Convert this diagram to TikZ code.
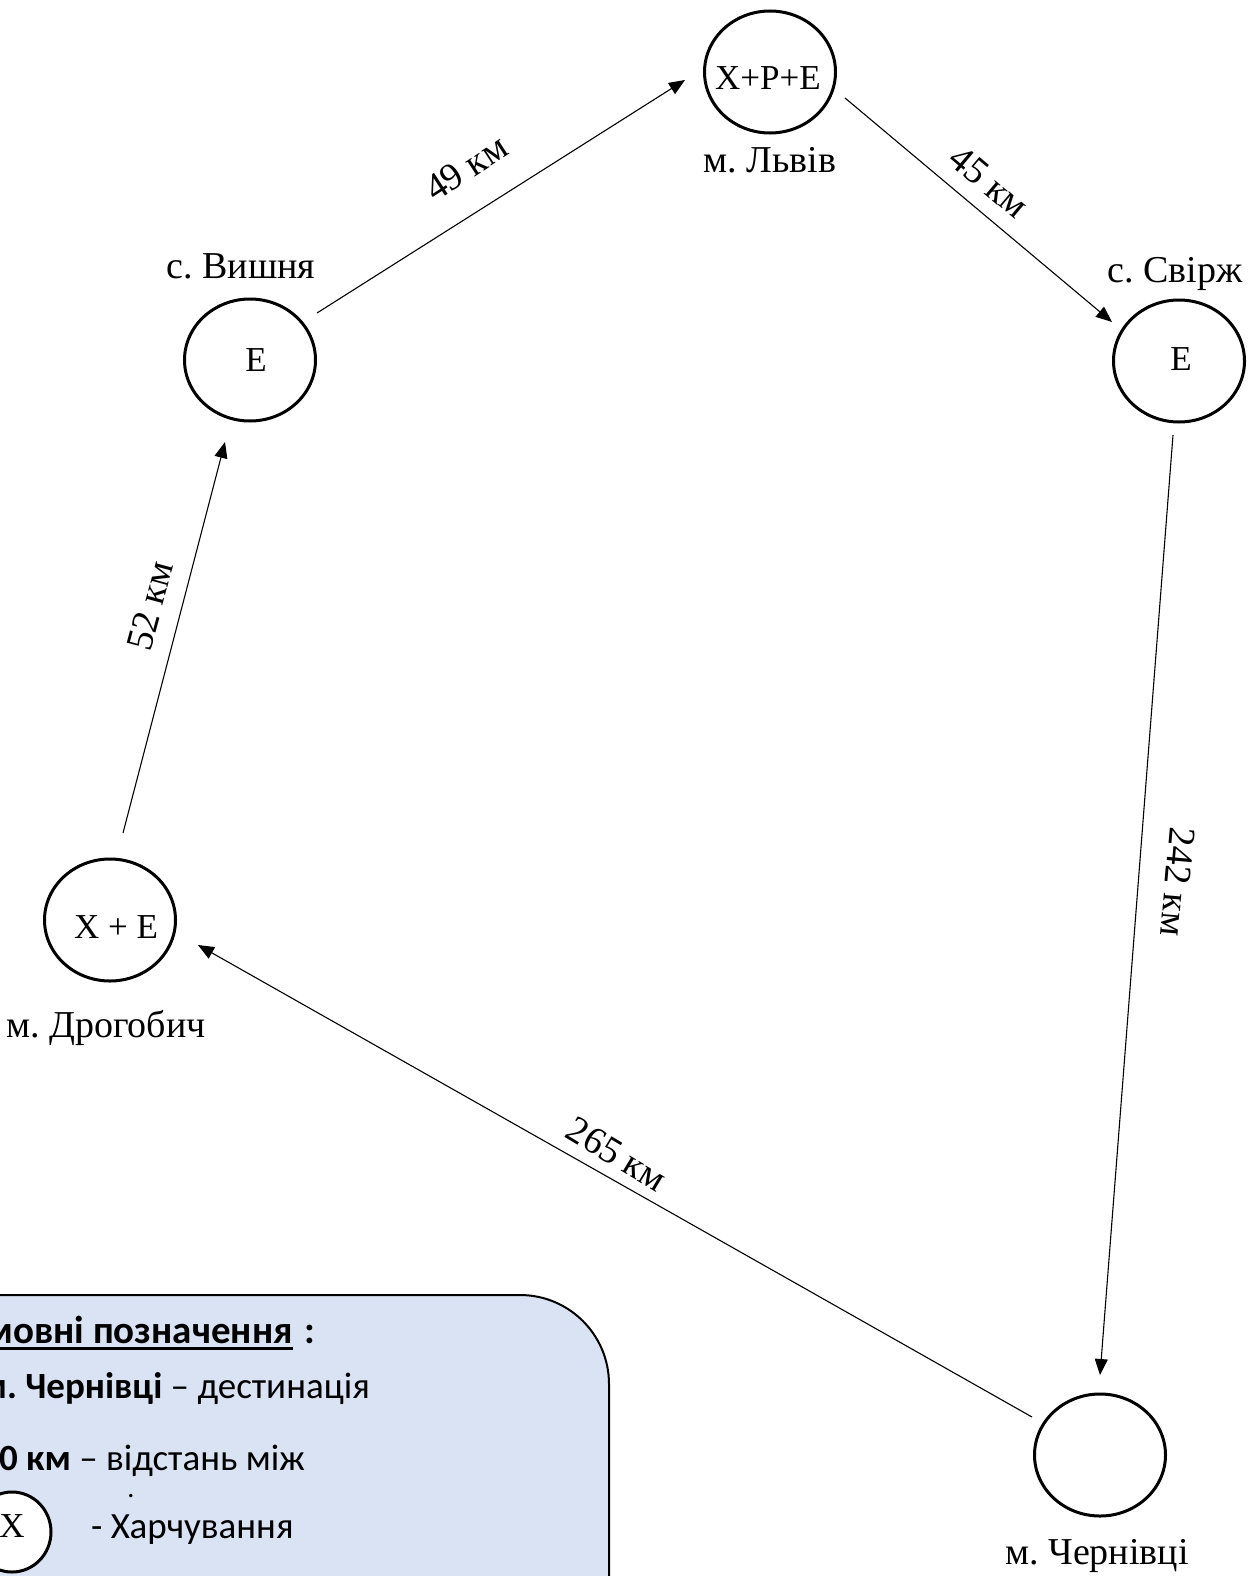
\documentclass[tikz,border=0pt]{standalone}
\usepackage{fontspec}
\setmainfont{Liberation Serif}
\newfontfamily\carl{Carlito}
\usetikzlibrary{shapes.geometric,arrows.meta,calc}
\definecolor{legendfill}{HTML}{DAE3F3}
\newcommand\myul[1]{\setbox0\hbox{#1}\rlap{\rule[-7pt]{\wd0}{3pt}}\box0}
\frenchspacing
\begin{document}
\begin{tikzpicture}[x=1pt,y=-1pt,
  city/.style={ellipse, draw, line width=3pt, minimum width=131pt, minimum height=122pt, inner sep=0pt},
  intext/.style={font=\fontsize{35}{40}\selectfont, anchor=base, inner sep=0pt},
  place/.style={font=\fontsize{38}{44}\selectfont, anchor=base, inner sep=0pt},
  dist/.style={font=\fontsize{38}{42}\selectfont, inner sep=0pt},
  conn/.style={line width=1.1pt, -{Triangle[length=16pt,width=13pt]}},
  legtext/.style={font=\carl\fontsize{37}{44}\selectfont, inner sep=0pt},
  leghead/.style={font=\carl\fontsize{39}{46}\selectfont\bfseries, inner sep=0pt}]
\useasboundingbox (0,0) rectangle (1254,1576);
\clip (0,0) rectangle (1254,1576);

% cities
\node[city] (L) at (770,72) {};
\node[city] (V) at (250,360) {};
\node[city] (S) at (1179,361) {};
\node[city] (D) at (110,920) {};
\node[city] (C) at (1100,1455) {};

% inner texts
\node[intext] (Lt) at (768,90) {Х+Р+Е};
\node[intext] (Vt) at (256,371) {Е};
\node[intext] (St) at (1181,370) {Е};
\node[intext] (Dt) at (116,938) {Х + Е};

% place names
\node[place] (Ln) at (770,172) {м. Львів};
\node[place] (Vn) at (241,278) {с. Вишня};
\node[place] (Sn) at (1175,282) {с. Свірж};
\node[place] (Dn) at (106,1037) {м. Дрогобич};
\node[place] (Cn) at (1097,1564) {м. Чернівці};

% connectors
\draw[conn] ($(D)+(13,-87)$) -- ($(V)+(-25,82)$);
\draw[conn] ($(V)+(67,-47)$) -- ($(L)+(-85,8)$);
\draw[conn] ($(L)+(75,26)$) -- ($(S)+(-67,-39)$);
\draw[conn] ($(S)+(-6,74)$) -- ($(C)+(0,-80)$);
\draw[conn] ($(C)+(-68,-38)$) -- ($(D)+(88,25)$);

% distances
\node[dist, rotate=33] (d49) at (466,168) {49 км};
\node[dist, rotate=-40] (d45) at (989,182) {45 км};
\node[dist, rotate=-95] (d242) at (1178,882) {242 км};
\node[dist, rotate=-31] (d265) at (617,1154) {265 км};
\node[dist, rotate=75] (d52) at (150,606) {52 км};

% legend
\draw[line width=2pt, fill=legendfill, rounded corners=89pt] (-100,1295) rectangle (609,1700);
\node[leghead, anchor=base east] (lh) at (293,1343) {\myul{Умовні позначення}};
\node[leghead, anchor=base west] (lhc) at (lh.base east) {\hspace{0.3em}:};
\node[legtext, anchor=base east] (l1) at (370,1398) {\bfseries м. Чернівці\mdseries{} – дестинація};
\node[legtext, anchor=base east] (l2) at (305,1470) {\bfseries 10 км\mdseries{} – відстань між};
\node[font=\carl\fontsize{28}{32}\selectfont, inner sep=0pt, anchor=base] (ldot) at (131,1497) {.};
\node[ellipse, draw, line width=3pt, fill=white, minimum width=78pt, minimum height=80pt, inner sep=0pt] (lc) at (12,1532) {};
\node[intext] (lx) at (12,1537) {Х};
\node[legtext, anchor=base west] (l3) at (91,1538) {- Харчування};
\end{tikzpicture}
\end{document}
